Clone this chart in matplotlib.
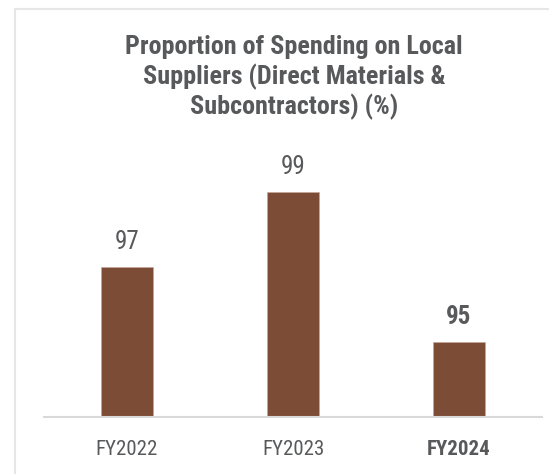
import matplotlib
matplotlib.use('Agg')
import matplotlib.pyplot as plt
from matplotlib import font_manager
from matplotlib.lines import Line2D

# Data
years = ['FY2022', 'FY2023', 'FY2024']
share_pct = [97, 99, 95]
highlight = [False, False, True]

# pick a condensed face if one is installed
installed = {f.name for f in font_manager.fontManager.ttflist}
family = 'DejaVu Sans'
for name in ['Roboto Condensed', 'Liberation Sans Narrow', 'Roboto', 'Liberation Sans']:
    if name in installed:
        family = name
        break
plt.rcParams['font.family'] = [family, 'DejaVu Sans']

BAR = '#7d4c37'
TXT = '#58595b'

fig = plt.figure(figsize=(5.49, 4.74), dpi=100)
ax = fig.add_axes([44 / 549, 57.3 / 474, 498 / 549, 262.5 / 474])

xs = range(len(years))
ax.bar(xs, share_pct, width=0.31, bottom=0, color=BAR, edgecolor='#c9a795', linewidth=0.4)
ax.set_xlim(-0.5, 2.5)
ax.set_ylim(93, 100)

for x, v, hl in zip(xs, share_pct, highlight):
    ax.annotate(f'{v}', (x, v), xytext=(0, 18), textcoords='offset points',
                ha='center', va='center', fontsize=18, color=TXT,
                fontweight='bold' if hl else 'normal')

ax.set_xticks(list(xs))
ax.set_xticklabels(years, fontsize=15, color=TXT)
for lab, hl in zip(ax.get_xticklabels(), highlight):
    if hl:
        lab.set_fontweight('bold')
ax.tick_params(axis='x', length=0, pad=17)
ax.set_yticks([])
for side in ['left', 'right', 'top']:
    ax.spines[side].set_visible(False)
ax.spines['bottom'].set_color('#d9d9d9')
ax.spines['bottom'].set_linewidth(1.5)

fig.text(294 / 549, 1 - 114.3 / 474,
         'Proportion of Spending on Local\nSuppliers (Direct Materials &\nSubcontractors) (%)',
         ha='center', va='baseline', fontsize=18.8, fontweight='bold', color=TXT,
         linespacing=1.2, multialignment='center')

# light frame of the source panel
fig.add_artist(Line2D([14.5 / 549, 14.5 / 549], [0, 1 - 8.5 / 474],
                      transform=fig.transFigure, color='#e6e6e6', lw=1.5))
fig.add_artist(Line2D([14.5 / 549, 1], [1 - 8.5 / 474, 1 - 8.5 / 474],
                      transform=fig.transFigure, color='#e6e6e6', lw=1.5))

fig.savefig('out.png', dpi=100)
